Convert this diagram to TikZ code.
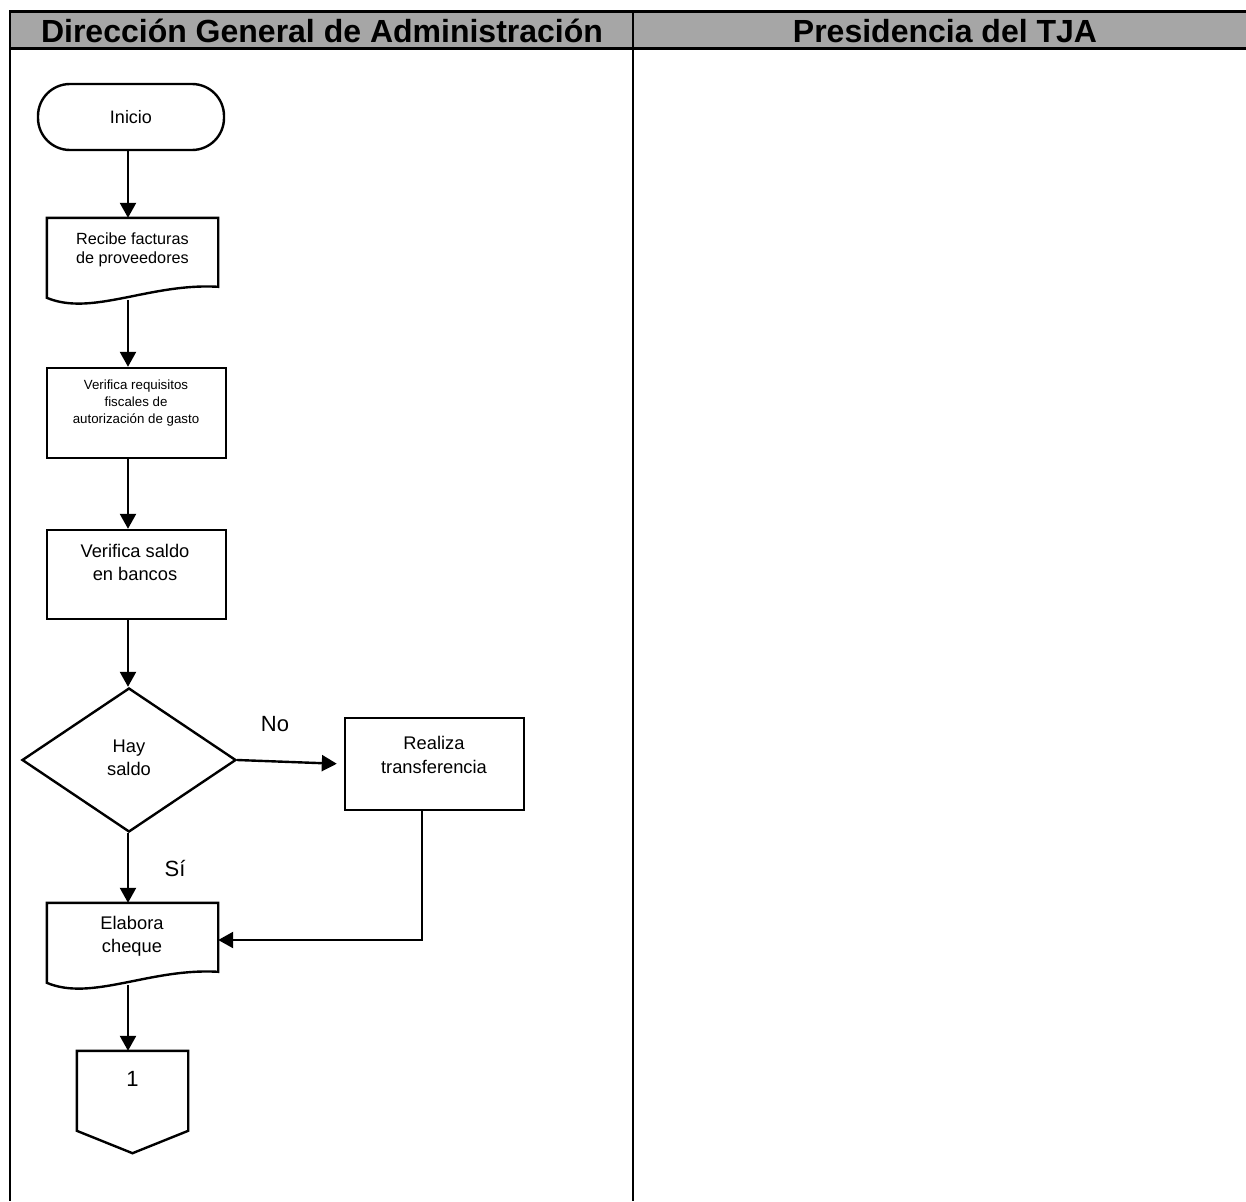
\documentclass[tikz,border=0pt]{standalone}
\usepackage{fontspec}
\setmainfont{Liberation Sans}
\usetikzlibrary{arrows.meta,shapes.geometric,calc}
\definecolor{hdrgray}{RGB}{166,166,166}

% outline of a flowchart "document" shape on a hidden node
\newcommand\docoutline[1]{%
  \draw[shp] (#1.north west) -- (#1.north east) -- ($(#1.north east)+(0,69)$)
    .. controls ($(#1.north west)+(103,65)$) and ($(#1.north west)+(45,99)$) ..
    ($(#1.north west)+(0,80)$) -- cycle;}

\begin{document}
\begin{tikzpicture}[x=1pt,y=-1pt,
  shp/.style={draw,line width=2.4pt},
  box/.style={shp,rectangle,inner sep=0pt},
  hidden/.style={rectangle,inner sep=0pt,draw=none},
  arr/.style={line width=2.4pt,-{Triangle[length=15pt,width=16pt]}},
  lbl/.style={align=center,inner sep=0pt},
  hdr/.style={font=\fontsize{32}{36}\selectfont\bfseries,inner sep=0pt},
  f13/.style={font=\fontsize{13.3}{17}\selectfont},
  f16/.style={font=\fontsize{16.2}{19}\selectfont},
  f17/.style={font=\fontsize{18}{20}\selectfont},
  f18/.style={font=\fontsize{18.3}{23.5}\selectfont},
  f22/.style={font=\fontsize{22}{26}\selectfont}]
\useasboundingbox (0,0) rectangle (1246,1201);

% swimlane table
\fill[hdrgray] (10,12) rectangle (1246,49);
\draw[line width=3pt] (10,12) -- (1246,12);
\draw[line width=3pt] (10,49) -- (1246,49);
\draw[line width=2.5pt] (10,10.5) -- (10,1201);
\draw[line width=2.5pt] (633,10.5) -- (633,1201);
\node[hdr] (lane1) at (322,31) {Dirección General de Administración};
\node[hdr] (lane2) at (945,31) {Presidencia del TJA};

% shapes
\node[box,rounded corners=32pt,minimum width=186pt,minimum height=66pt,f17] (ini) at (131,117) {Inicio};

\node[hidden,minimum width=171pt,minimum height=82pt] (rec) at (132.5,259) {};
\docoutline{rec}
\node[lbl,f16] (rectxt) at (132.5,249.5) {Recibe facturas\\de proveedores};

\node[box,minimum width=179pt,minimum height=90pt] (ver1) at (136.5,413) {};
\node[lbl,f13] (ver1txt) at (136,403) {Verifica requisitos\\fiscales de\\autorización de gasto};

\node[box,minimum width=179pt,minimum height=89pt] (ver2) at (136.5,574.5) {};
\node[lbl,f18] (ver2txt) at (135,562.5) {Verifica saldo\\en bancos};

\node[shp,diamond,minimum width=214pt,minimum height=144pt,inner sep=0pt] (dia) at (129,760) {};
\node[lbl,f18] (diatxt) at (129,758) {Hay\\saldo};

\node[box,minimum width=179pt,minimum height=92pt] (real) at (434.5,764) {};
\node[lbl,f18] (realtxt) at (434,755) {Realiza\\transferencia};

\node[hidden,minimum width=171pt,minimum height=82pt] (che) at (132.5,944) {};
\docoutline{che}
\node[lbl,f18] (chetxt) at (132,936.5) {Elabora\\cheque};

\node[hidden,minimum width=111pt,minimum height=102pt] (con) at (132.5,1102) {};
\draw[shp] (con.north west) -- (con.north east) -- ($(con.north east)+(0,80)$)
  -- (con.south) -- ($(con.north west)+(0,80)$) -- cycle;
\node[lbl,f22] (contxt) at (132.5,1079) {1};

% branch labels
\node[lbl,f22] (no) at (275,724) {No};
\node[lbl,f22] (si) at (175,868) {Sí};

% connectors
\coordinate (colA) at (128,0);
\coordinate (colB) at (422,0);
\draw[arr] (ini.south -| colA) -- (rec.north -| colA);
\draw[arr] (rec.south -| colA) -- (ver1.north -| colA);
\draw[arr] (ver1.south -| colA) -- (ver2.north -| colA);
\draw[arr] (ver2.south -| colA) -- (dia.north -| colA);
\draw[arr] (dia.south -| colA) -- (che.north -| colA);
\draw[arr] (che.south -| colA) -- (con.north -| colA);
\draw[arr,shorten >=7pt] (dia.east) -- (real.west);
\draw[arr] (real.south -| colB) |- ($(che.east)+(0,-4)$);
\end{tikzpicture}
\end{document}
